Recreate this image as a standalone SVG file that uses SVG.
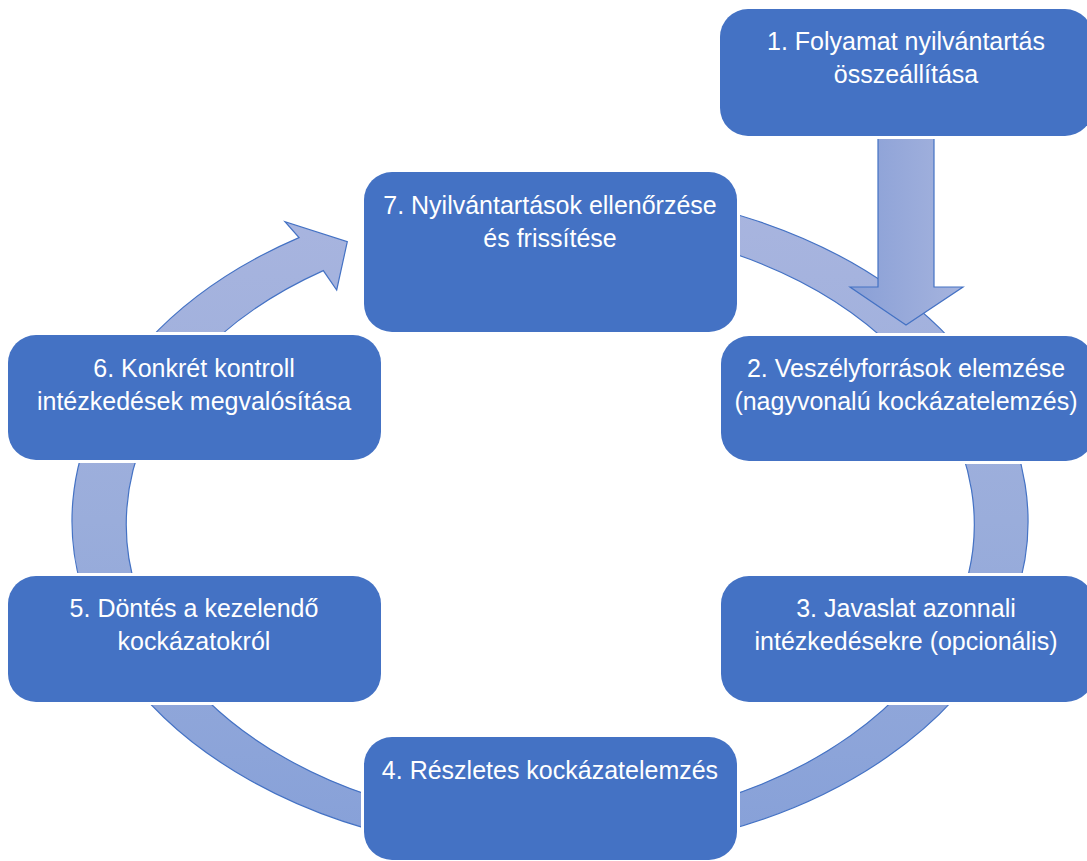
<svg xmlns="http://www.w3.org/2000/svg" width="1087" height="861" viewBox="0 0 1087 861">
  <defs>
    <linearGradient id="ringGrad" gradientUnits="userSpaceOnUse" x1="0" y1="188" x2="0" y2="854">
      <stop offset="0" stop-color="#a9b5df"/>
      <stop offset="0.5" stop-color="#9aaddb"/>
      <stop offset="1" stop-color="#86a0d8"/>
    </linearGradient>
    <linearGradient id="arrowGrad" gradientUnits="userSpaceOnUse" x1="850" y1="0" x2="963" y2="0">
      <stop offset="0" stop-color="#899fd6"/>
      <stop offset="1" stop-color="#a6b4de"/>
    </linearGradient>
  </defs>
  <style>
    .node { fill: #4472c4; stroke: #ffffff; stroke-width: 6; paint-order: stroke; }
    .label { font-family: "Liberation Sans", Arial, sans-serif; font-size: 25px; fill: #ffffff; text-anchor: middle; }
    .ring { fill: url(#ringGrad); stroke: #4472c4; stroke-width: 1.2; stroke-linejoin: miter; }
    .down { fill: url(#arrowGrad); stroke: #4472c4; stroke-width: 1.2; }
  </style>

  <g id="connectors">
    <path class="ring" d="M 550,188 A 478 333 0 1 1 299,237.6 L 285,221.7 L 347.3,241.7 L 336.7,290 L 323.3,270.6 A 424 300 0 1 0 550,224 Z"/>
    <path class="down" d="M 878,136 L 934,136 L 934,287 L 963,287 L 906,325 L 850,287 L 878,287 Z"/>
  </g>

  <g id="node1">
    <rect class="node" x="720" y="9" width="373" height="127" rx="28"/>
    <text class="label" x="906" y="50">1. Folyamat nyilvántartás</text>
    <text class="label" x="906" y="83">összeállítása</text>
  </g>

  <g id="node2">
    <rect class="node" x="721" y="336" width="373" height="125" rx="28"/>
    <text class="label" x="906" y="377">2. Veszélyforrások elemzése</text>
    <text class="label" x="906" y="410">(nagyvonalú kockázatelemzés)</text>
  </g>

  <g id="node3">
    <rect class="node" x="721" y="576" width="373" height="126" rx="28"/>
    <text class="label" x="906" y="617">3. Javaslat azonnali</text>
    <text class="label" x="906" y="650">intézkedésekre (opcionális)</text>
  </g>

  <g id="node4">
    <rect class="node" x="364" y="737" width="373" height="123" rx="28"/>
    <text class="label" x="550" y="779">4. Részletes kockázatelemzés</text>
  </g>

  <g id="node5">
    <rect class="node" x="8" y="576" width="373" height="126" rx="28"/>
    <text class="label" x="194" y="617">5. Döntés a kezelendő</text>
    <text class="label" x="194" y="650">kockázatokról</text>
  </g>

  <g id="node6">
    <rect class="node" x="8" y="335" width="373" height="125" rx="28"/>
    <text class="label" x="194" y="377">6. Konkrét kontroll</text>
    <text class="label" x="194" y="410">intézkedések megvalósítása</text>
  </g>

  <g id="node7">
    <rect class="node" x="364" y="172" width="373" height="160" rx="28"/>
    <text class="label" x="550" y="214">7. Nyilvántartások ellenőrzése</text>
    <text class="label" x="550" y="247">és frissítése</text>
  </g>
</svg>
